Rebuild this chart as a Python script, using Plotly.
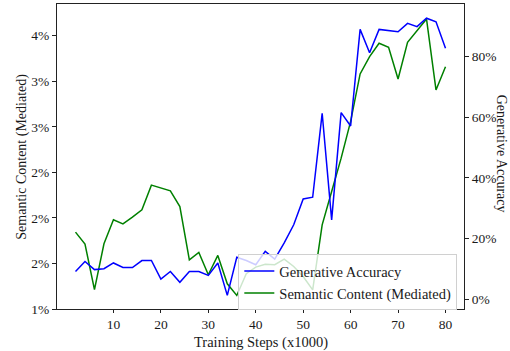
import plotly.graph_objects as go

steps = list(range(2, 82, 2))

semantic_content = [
    1.844, 1.713, 1.212, 1.716, 1.979, 1.935, 2.009, 2.089, 2.36, 2.327,
    2.297, 2.125, 1.54, 1.62, 1.376, 1.588, 1.277, 1.149, 1.387, 1.46,
    1.49, 1.486, 1.548, 1.467, 1.357, 1.21, 1.924, 2.29, 2.656, 3.06,
    3.58, 3.77, 3.917, 3.873, 3.525, 3.928, 4.055, 4.183, 3.405, 3.66,
]

generative_accuracy = [
    9.1, 12.4, 9.7, 10.0, 11.9, 10.4, 10.4, 12.7, 12.7, 6.6,
    9.1, 5.5, 9.1, 9.1, 7.8, 11.9, 1.2, 13.8, 12.7, 11.3,
    15.7, 13.2, 18.5, 24.5, 33.0, 33.6, 61.3, 26.1, 61.5, 57.1,
    89.0, 81.3, 89.0, 88.5, 88.2, 91.0, 89.9, 92.7, 91.5, 82.8,
]

left_tickvals = [1.0, 1.5, 2.0, 2.5, 3.0, 3.5, 4.0]
left_ticktext = ["1%", "2%", "2%", "2%", "3%", "3%", "4%"]
right_tickvals = [0, 20, 40, 60, 80]
right_ticktext = ["0%", "20%", "40%", "60%", "80%"]
x_tickvals = [10, 20, 30, 40, 50, 60, 70, 80]

FONT = "Liberation Serif, Times New Roman, serif"
AX = "#222222"
TXT = "#1a1a1a"

fig = go.Figure()
fig.add_trace(go.Scatter(
    x=steps, y=generative_accuracy, name="Generative Accuracy",
    mode="lines", line=dict(color="#0000ff", width=1.5), yaxis="y2",
))
fig.add_trace(go.Scatter(
    x=steps, y=semantic_content, name="Semantic Content (Mediated)",
    mode="lines", line=dict(color="#008000", width=1.5), yaxis="y",
))

tickfont = dict(family=FONT, size=13.5, color=TXT)

fig.update_layout(
    width=510, height=351,
    margin=dict(l=57, r=46, t=4, b=42),
    paper_bgcolor="white", plot_bgcolor="white",
    font=dict(family=FONT, size=14, color=TXT),
    showlegend=True,
    legend=dict(
        x=0.4455, y=0.18, xanchor="left", yanchor="top",
        bgcolor="rgba(255,255,255,0.8)", bordercolor="#d0d0d0", borderwidth=1,
        font=dict(family=FONT, size=14.5, color=TXT),
        traceorder="normal",
    ),
    xaxis=dict(
        range=[-1.9, 83.9], tickvals=x_tickvals,
        showgrid=False, zeroline=False,
        showline=True, linecolor=AX, linewidth=1, mirror=True,
        ticks="outside", ticklen=3, tickcolor=AX,
        tickfont=tickfont,
    ),
    yaxis=dict(
        range=[1.0, 4.348], tickvals=left_tickvals, ticktext=left_ticktext,
        showgrid=False, zeroline=False,
        showline=True, linecolor=AX, linewidth=1,
        ticks="outside", ticklen=4, tickcolor=AX,
        tickfont=tickfont,
    ),
    yaxis2=dict(
        range=[-3.3, 97.38], tickvals=right_tickvals, ticktext=right_ticktext,
        overlaying="y", side="right",
        showgrid=False, zeroline=False,
        showline=True, linecolor=AX, linewidth=1,
        ticks="outside", ticklen=4, tickcolor=AX,
        tickfont=tickfont,
    ),
    annotations=[
        dict(text="Training Steps (x1000)", x=0.5, y=0, xref="paper", yref="paper",
             xanchor="center", yanchor="top", yshift=-23, showarrow=False,
             font=dict(family=FONT, size=14.5, color=TXT)),
        dict(text="Semantic Content (Mediated)", x=-0.088, y=0.5, xref="paper", yref="paper",
             xanchor="center", yanchor="middle", textangle=-90, showarrow=False,
             font=dict(family=FONT, size=14, color=TXT)),
        dict(text="Generative Accuracy", x=1.0926, y=0.51, xref="paper", yref="paper",
             xanchor="center", yanchor="middle", textangle=90, showarrow=False,
             font=dict(family=FONT, size=14, color=TXT)),
    ],
)

fig.write_html("out.html")
